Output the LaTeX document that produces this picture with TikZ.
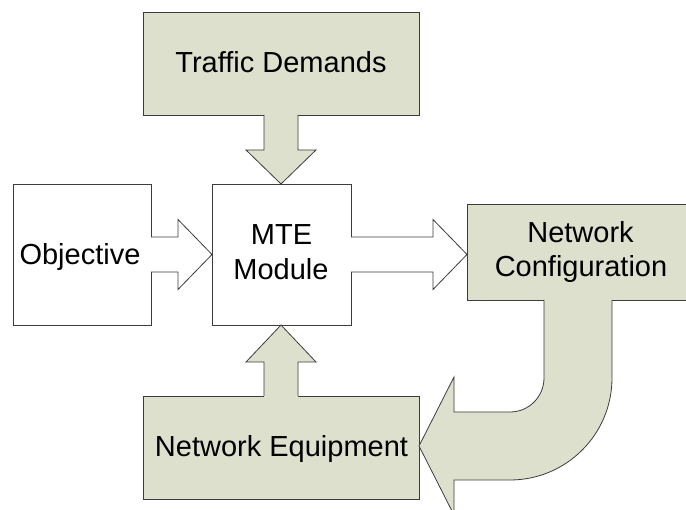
\documentclass[tikz,border=0pt]{standalone}
\usepackage{fontspec}
\setmainfont{Liberation Sans}
\usetikzlibrary{calc}
\definecolor{sage}{RGB}{221,224,205}
\definecolor{edgegrey}{RGB}{60,60,60}
\tikzset{
  x=1pt, y=-1pt,
  box/.style={draw=edgegrey, line width=0.8pt, inner sep=0pt, outer sep=0pt,
              minimum width=#1},
  greenbox/.style={box=#1, fill=sage},
  whitebox/.style={box=#1, fill=white},
  outline/.style={draw=edgegrey, line width=0.8pt},
  lbl/.style={font=\fontsize{29}{35}\selectfont, inner sep=0pt, anchor=base},
}
\begin{document}
\begin{tikzpicture}
\useasboundingbox (0,0) rectangle (686,510);

% boxes
\node[greenbox=276pt, minimum height=103pt] (td)  at (281,63.5)  {};
\node[whitebox=139pt, minimum height=141pt] (mte) at (281.5,254.5) {};
\node[whitebox=138pt, minimum height=141pt] (obj) at (82,254.5)  {};
\node[greenbox=222pt, minimum height=96pt]  (nc)  at (578,252)   {};
\node[greenbox=276pt, minimum height=103pt] (ne)  at (281,447.5) {};

% Traffic Demands -> MTE (down)
\fill[sage] ($(td.south)+(-17,-2)$) -- ($(td.south)+(-17,35)$) -- ($(td.south)+(-35,35)$)
  -- (td.south |- mte.north) -- ($(td.south)+(35,35)$) -- ($(td.south)+(17,35)$)
  -- ($(td.south)+(17,-2)$) -- cycle;
\draw[outline] ($(td.south)+(-17,0)$) -- ($(td.south)+(-17,35)$) -- ($(td.south)+(-35,35)$)
  -- (td.south |- mte.north) -- ($(td.south)+(35,35)$) -- ($(td.south)+(17,35)$)
  -- ($(td.south)+(17,0)$);

% Network Equipment -> MTE (up)
\fill[sage] ($(ne.north)+(-17,2)$) -- ($(ne.north)+(-17,-34)$) -- ($(ne.north)+(-35,-34)$)
  -- (ne.north |- mte.south) -- ($(ne.north)+(35,-34)$) -- ($(ne.north)+(17,-34)$)
  -- ($(ne.north)+(17,2)$) -- cycle;
\draw[outline] ($(ne.north)+(-17,0)$) -- ($(ne.north)+(-17,-34)$) -- ($(ne.north)+(-35,-34)$)
  -- (ne.north |- mte.south) -- ($(ne.north)+(35,-34)$) -- ($(ne.north)+(17,-34)$)
  -- ($(ne.north)+(17,0)$);

% Objective -> MTE
\fill[white] ($(obj.east)+(-2,-17.5)$) -- ($(obj.east)+(27,-17.5)$) -- ($(obj.east)+(27,-35)$)
  -- (obj.east -| mte.west) -- ($(obj.east)+(27,35)$) -- ($(obj.east)+(27,17.5)$)
  -- ($(obj.east)+(-2,17.5)$) -- cycle;
\draw[outline] ($(obj.east)+(0,-17.5)$) -- ($(obj.east)+(27,-17.5)$) -- ($(obj.east)+(27,-35)$)
  -- (obj.east -| mte.west) -- ($(obj.east)+(27,35)$) -- ($(obj.east)+(27,17.5)$)
  -- ($(obj.east)+(0,17.5)$);

% MTE -> Network Configuration
\fill[white] ($(mte.east)+(-2,-17.5)$) -- ($(mte.east)+(82,-17.5)$) -- ($(mte.east)+(82,-35)$)
  -- (mte.east -| nc.west) -- ($(mte.east)+(82,35)$) -- ($(mte.east)+(82,17.5)$)
  -- ($(mte.east)+(-2,17.5)$) -- cycle;
\draw[outline] ($(mte.east)+(0,-17.5)$) -- ($(mte.east)+(82,-17.5)$) -- ($(mte.east)+(82,-35)$)
  -- (mte.east -| nc.west) -- ($(mte.east)+(82,35)$) -- ($(mte.east)+(82,17.5)$)
  -- ($(mte.east)+(0,17.5)$);

% Network Configuration -> Network Equipment (bent arrow)
\coordinate (tip) at (ne.east |- 0,446);
\fill[sage] ($(nc.south)+(-34,-2)$) -- (544,378) arc[start angle=0, end angle=90, radius=34]
  -- (454,412) -- (454,377) -- (tip) -- (454,515) -- (454,480) -- (510,480)
  arc[start angle=90, end angle=0, radius=102] -- ($(nc.south)+(34,-2)$) -- cycle;
\draw[outline] ($(nc.south)+(-34,0)$) -- (544,378) arc[start angle=0, end angle=90, radius=34]
  -- (454,412) -- (454,377) -- (tip) -- (454,515) -- (454,480) -- (510,480)
  arc[start angle=90, end angle=0, radius=102] -- ($(nc.south)+(34,0)$);

% labels
\node[lbl] (tdlbl)  at (281,73)    {Traffic Demands};
\node[lbl] (objlbl) at (80,265)    {Objective};
\node[lbl] (mtel1)  at (281.5,245) {MTE};
\node[lbl] (mtel2)  at (281,280)   {Module};
\node[lbl] (ncl1)   at (580.5,243) {Network};
\node[lbl] (ncl2)   at (581,277)   {Configuration};
\node[lbl] (nelbl)  at (281.5,457) {Network Equipment};
\end{tikzpicture}
\end{document}
